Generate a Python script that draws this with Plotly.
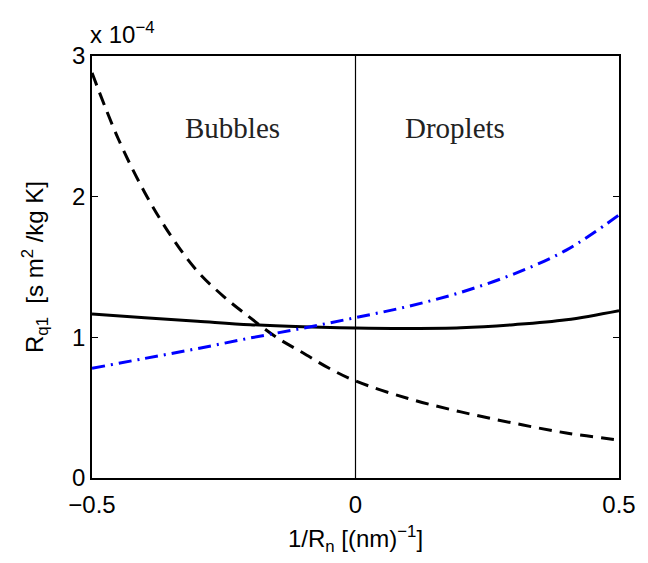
import plotly.graph_objects as go

# Data
x_dashed = [-0.5, -0.45, -0.4, -0.35, -0.3, -0.25, -0.2, -0.15, -0.1, -0.05, 0.0, 0.1, 0.2, 0.3, 0.4, 0.5]
y_dashed = [2.88, 2.41, 2.03, 1.72, 1.47, 1.29, 1.14, 1.00, 0.89, 0.78, 0.69, 0.565, 0.47, 0.39, 0.32, 0.27]

x_solid = [-0.5, -0.4, -0.3, -0.2, -0.1, 0.0, 0.1, 0.2, 0.3, 0.4, 0.5]
y_solid = [1.165, 1.14, 1.115, 1.09, 1.075, 1.066, 1.063, 1.068, 1.09, 1.125, 1.19]

x_blue = [-0.5, -0.4, -0.3, -0.2, -0.1, 0.0, 0.1, 0.2, 0.3, 0.4, 0.5]
y_blue = [0.78, 0.85, 0.92, 0.995, 1.065, 1.14, 1.22, 1.32, 1.45, 1.62, 1.87]

divider_x = [0, 0]
divider_y = [0, 3]

x_ticks = [-0.5, 0, 0.5]
x_ticktext = ["\u22120.5", "0", "0.5"]
y_ticks = [0, 1, 2, 3]
y_ticktext = ["0", "1", "2", "3"]

region_labels = ["Bubbles", "Droplets"]
region_x = [-0.233, 0.188]
region_y = [2.49, 2.49]

FS = 24

fig = go.Figure()
fig.add_trace(go.Scatter(x=divider_x, y=divider_y, mode="lines",
                         line=dict(color="black", width=1.2), showlegend=False, hoverinfo="skip"))
fig.add_trace(go.Scatter(x=x_dashed, y=y_dashed, mode="lines",
                         line=dict(color="black", width=3, dash="13px,8px", shape="spline"),
                         showlegend=False))
fig.add_trace(go.Scatter(x=x_solid, y=y_solid, mode="lines",
                         line=dict(color="black", width=3, shape="spline"),
                         showlegend=False))
fig.add_trace(go.Scatter(x=x_blue, y=y_blue, mode="lines",
                         line=dict(color="#0000ff", width=3, dash="13px,6px,2px,6px", shape="spline"),
                         showlegend=False))

for t, xx, yy in zip(region_labels, region_x, region_y):
    fig.add_annotation(x=xx, y=yy, text=t, showarrow=False,
                       font=dict(family="Liberation Serif", size=29, color="#222"))

fig.add_annotation(xref="paper", yref="paper", x=0, y=1, xanchor="left", yanchor="bottom",
                   yshift=6, xshift=-4, text="x 10<sup>\u22124</sup>", showarrow=False,
                   font=dict(family="Liberation Sans", size=FS, color="black"))

axis_common = dict(showline=True, linecolor="black", linewidth=1.5, mirror="allticks",
                   ticks="inside", ticklen=6, tickwidth=1.2, tickcolor="black",
                   showgrid=False, zeroline=False,
                   tickfont=dict(family="Liberation Sans", size=FS, color="black"))

fig.update_xaxes(range=[-0.5, 0.5], tickvals=x_ticks, ticktext=x_ticktext,
                 ticklabelstandoff=4,
                 title=dict(text="1/R<sub>n</sub> [(nm)<sup>\u22121</sup>]",
                            font=dict(family="Liberation Sans", size=FS, color="black"),
                            standoff=14),
                 **axis_common)
fig.update_yaxes(range=[0, 3], tickvals=y_ticks, ticktext=y_ticktext,
                 title=dict(text="R<sub>q1</sub>  [s m<sup>2</sup> /kg K]",
                            font=dict(family="Liberation Sans", size=FS, color="black"),
                            standoff=22),
                 **axis_common)

fig.update_layout(width=648, height=563, margin=dict(l=92, r=21, t=56, b=85),
                  paper_bgcolor="white", plot_bgcolor="white")

fig.write_html("out.html")
